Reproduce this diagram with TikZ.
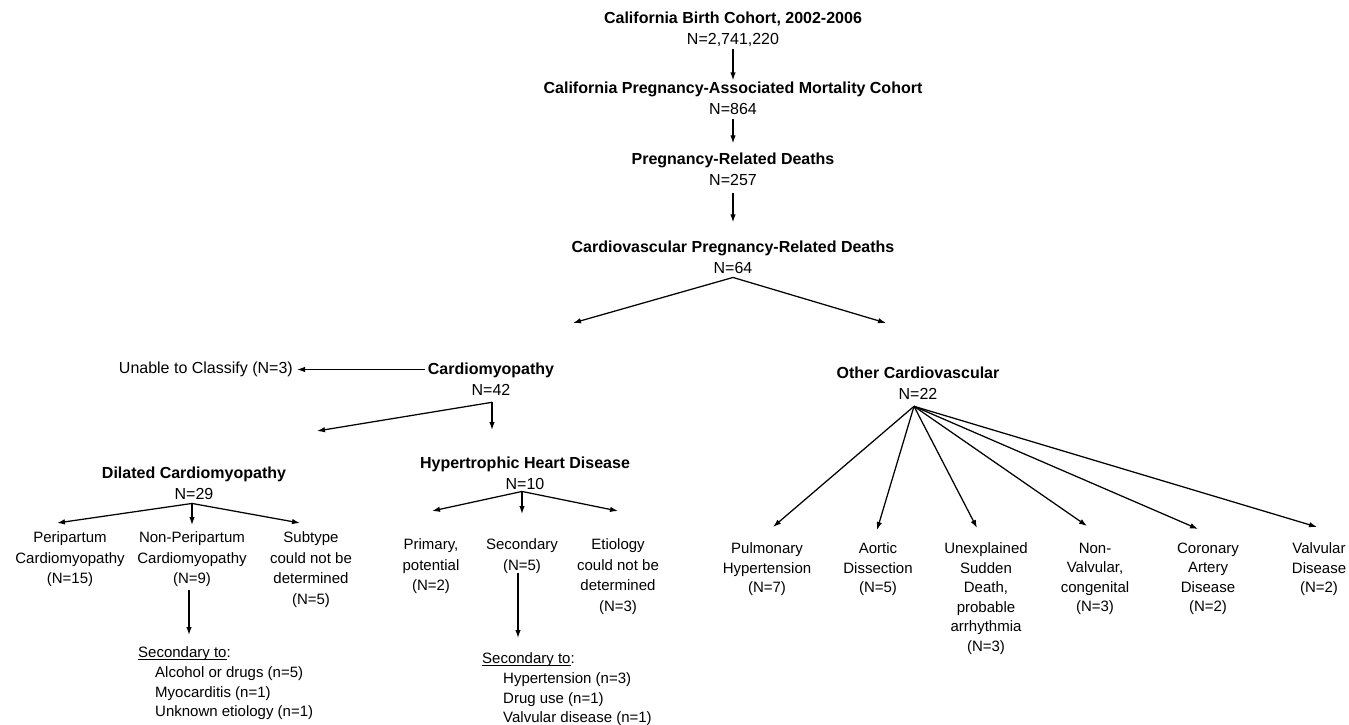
\documentclass[tikz,border=0pt]{standalone}
\usepackage{fontspec}
\setmainfont{Liberation Sans}
\usetikzlibrary{arrows.meta}

\newcommand{\undl}[1]{\setbox0=\hbox{#1}\rlap{\rule[-2pt]{\wd0}{0.8pt}}\box0}

\tikzset{
  head/.style={align=center, inner sep=0pt, anchor=north, font={\fontsize{16}{21}\selectfont}},
  leaf/.style={align=center, inner sep=0pt, anchor=north, font={\fontsize{15}{20.5}\selectfont}},
  sublist/.style={align=left, inner sep=0pt, anchor=north west, font={\fontsize{15}{19.7}\selectfont}},
  arr/.style={-{Latex[length=8pt,width=5.5pt]}, line width=1.25pt},
}

\begin{document}
\begin{tikzpicture}[x=1pt, y=-1pt]
\useasboundingbox (0,0) rectangle (1349,725);

% Cohort chain
\node[head] (birth) at (733,11.3) {\textbf{California Birth Cohort, 2002-2006}\\N=2,741,220};
\node[head] (assoc) at (733,81.3) {\textbf{California Pregnancy-Associated Mortality Cohort}\\N=864};
\node[head] (related) at (733,152.3) {\textbf{Pregnancy-Related Deaths}\\N=257};
\node[head] (cardio) at (733,240.3) {\textbf{Cardiovascular Pregnancy-Related Deaths}\\N=64};

\draw[arr, shorten <=3pt, shorten >=1pt] (birth.south) -- (assoc.north);
\draw[arr, shorten <=5pt, shorten >=9pt] (related.north |- assoc.south) -- (related.north);
\draw[arr, shorten <=8pt, shorten >=18pt] (related.south) -- (cardio.north);

% Two main branches
\node[head] (cmy) at (491,362.3) {\textbf{Cardiomyopathy}\\N=42};
\node[head] (ocv) at (918,366.3) {\textbf{Other Cardiovascular}\\N=22};
\node[anchor=east, inner sep=0pt, font={\fontsize{16}{21}\selectfont}] (unable) at (293,369.5) {Unable to Classify (N=3)};

\coordinate (cmytip) at (573,323);
\coordinate (ocvtip) at (886,323);
\draw[arr] ([yshift=-4pt]cardio.south) -- (cmytip);
\draw[arr] ([yshift=-4pt]cardio.south) -- (ocvtip);
\draw[arr, shorten <=3pt, shorten >=4pt] (unable.east -| cmy.west) -- (unable.east);

% Cardiomyopathy subtypes
\node[head] (dcm) at (194,466.3) {\textbf{Dilated Cardiomyopathy}\\N=29};
\node[head] (hhd) at (525,456.3) {\textbf{Hypertrophic Heart Disease}\\N=10};

\coordinate (dcmtip) at (317,431);
\coordinate (hhdtip) at (492,430);
\draw[arr] ([xshift=1pt,yshift=-7pt]cmy.south) -- (dcmtip);
\draw[arr] ([xshift=1pt,yshift=-7pt]cmy.south) -- (hhdtip);

% Dilated cardiomyopathy
\node[leaf] (peri) at (70,531.6) {Peripartum\\Cardiomyopathy\\(N=15)};
\node[leaf] (nonperi) at (192,531.6) {Non-Peripartum\\Cardiomyopathy\\(N=9)};
\node[leaf] (subtype) at (311,531.6) {Subtype\\could not be\\determined\\(N=5)};
\node[sublist] (dlist) at (138,646.6) {\undl{Secondary to}:\\
  \hspace*{17pt}Alcohol or drugs (n=5)\\
  \hspace*{17pt}Myocarditis (n=1)\\
  \hspace*{17pt}Unknown etiology (n=1)};

\draw[arr] ([xshift=-2pt,yshift=-4pt]dcm.south) -- ([xshift=-13pt,yshift=8.6pt]peri.north);
\draw[arr] ([xshift=-2pt,yshift=-4pt]dcm.south) -- ([yshift=6.6pt]nonperi.north);
\draw[arr] ([xshift=-2pt,yshift=-4pt]dcm.south) -- ([xshift=-11pt,yshift=8.6pt]subtype.north);
\draw[arr, shorten <=3pt, shorten >=11.6pt] ([xshift=-3pt]nonperi.south) -- ([xshift=-3pt]nonperi.south |- dlist.north);

% Hypertrophic heart disease
\node[leaf] (primary) at (431,538.6) {Primary,\\potential\\(N=2)};
\node[leaf] (secondary) at (522,538.6) {Secondary\\(N=5)};
\node[leaf] (etiology) at (618,538.6) {Etiology\\could not be\\determined\\(N=3)};
\node[sublist] (hlist) at (482,652.6) {\undl{Secondary to}:\\
  \hspace*{21pt}Hypertension (n=3)\\
  \hspace*{21pt}Drug use (n=1)\\
  \hspace*{21pt}Valvular disease (n=1)};

\draw[arr] ([xshift=-3pt,yshift=-2pt]hhd.south) -- ([xshift=1pt,yshift=27.6pt]primary.north);
\draw[arr] ([xshift=-3pt,yshift=-2pt]hhd.south) -- ([yshift=24.6pt]secondary.north);
\draw[arr] ([xshift=-3pt,yshift=-2pt]hhd.south) -- ([yshift=27.6pt]etiology.north);
\draw[arr, shorten >=14.6pt] ([xshift=-4pt]secondary.south) -- ([xshift=-4pt]secondary.south |- hlist.north);

% Other cardiovascular
\begin{scope}[leaf/.append style={font={\fontsize{15}{19.5}\selectfont}}]
\node[leaf] (pulm) at (767,542.6) {Pulmonary\\Hypertension\\(N=7)};
\node[leaf] (aortic) at (878,542.6) {Aortic\\Dissection\\(N=5)};
\node[leaf] (sudden) at (986,542.6) {Unexplained\\Sudden\\Death,\\probable\\arrhythmia\\(N=3)};
\node[leaf] (nonvalv) at (1095,542.6) {Non-\\Valvular,\\congenital\\(N=3)};
\node[leaf] (cad) at (1208,542.6) {Coronary\\Artery\\Disease\\(N=2)};
\node[leaf] (valv) at (1319,542.6) {Valvular\\Disease\\(N=2)};
\end{scope}

\foreach \n/\dx/\dy in {pulm/6/15.6, aortic/-1/12.6, sudden/-9/14.6, nonvalv/-8/16.6, cad/-10/13.6, valv/-2/15.6}
  \draw[arr] ([xshift=-4pt,yshift=-7pt]ocv.south) -- ([xshift=\dx pt,yshift=\dy pt]\n.north);

\end{tikzpicture}
\end{document}
